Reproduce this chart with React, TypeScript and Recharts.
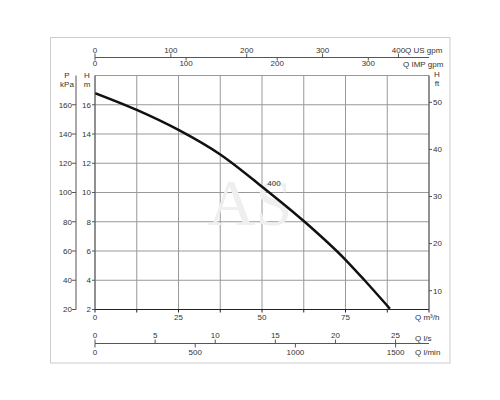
import React from "react";
import { ComposedChart, Line, XAxis, YAxis, CartesianGrid } from "recharts";

// pump curve "400"
const flowM3h = [0, 12.5, 25, 37.5, 50, 62.5, 75, 80.7, 88.3];
const headM = [16.8, 15.65, 14.28, 12.6, 10.4, 8.05, 5.4, 4.0, 2.05];

const m3hTicks = [0, 12.5, 25, 37.5, 50, 62.5, 75, 87.5, 100];
const m3hLabels = [0, 25, 50, 75];
const lsTicks = [0, 5, 10, 15, 20, 25];
const lminTicks = [0, 500, 1000, 1500];
const usGpmTicks = [0, 100, 200, 300, 400];
const impGpmTicks = [0, 100, 200, 300];
const headTicks = [2, 4, 6, 8, 10, 12, 14, 16];
const gridHead = [2, 4, 6, 8, 10, 12, 14, 16, 18];
const kpaTicks = [20, 40, 60, 80, 100, 120, 140, 160];
const ftTicks = [10, 20, 30, 40, 50];

const data = flowM3h.map((q, i) => ({ q, h: headM[i] }));

const FONT = "'Liberation Sans', Arial, sans-serif";
const TXT = "#333";
const AXIS = "#555";
const tickFont = { fontSize: 8, fill: TXT, fontFamily: FONT };

// tick + label above a bottom line (Q l/s)
const LsTick = (props: any) => {
  const { x, y, payload } = props;
  return (
    <g>
      <line x1={x} y1={y} x2={x} y2={y - 4} stroke={AXIS} />
      <text x={x} y={y - 5.5} textAnchor="middle" {...tickFont}>
        {payload.value}
      </text>
    </g>
  );
};

// tick + label below the same line (Q l/min), axis sits 1px lower
const LminTick = (props: any) => {
  const { x, y, payload } = props;
  return (
    <g>
      <line x1={x} y1={y - 1} x2={x} y2={y + 3} stroke={AXIS} />
      <text x={x} y={y + 10.5} textAnchor="middle" {...tickFont}>
        {payload.value}
      </text>
    </g>
  );
};

// IMP gpm: drawn under the US gpm line, 18px above this axis' own edge
const ImpTick = (props: any) => {
  const { x, y, payload } = props;
  return (
    <g>
      <line x1={x} y1={y - 18} x2={x} y2={y - 15} stroke={AXIS} />
      <text x={x} y={y - 9.5} textAnchor="middle" {...tickFont}>
        {payload.value}
      </text>
    </g>
  );
};

const UsTick = (props: any) => {
  const { x, y, payload } = props;
  return (
    <g>
      <line x1={x} y1={y} x2={x} y2={y - 4} stroke={AXIS} />
      <text x={x} y={y - 5} textAnchor="middle" {...tickFont}>
        {payload.value}
      </text>
    </g>
  );
};

// axis ids are sorted by name when stacked, hence the prefixes
export default function App() {
  return (
    <div>
      <style>{"body{margin:0}"}</style>
      <ComposedChart
        width={500}
        height={400}
        data={data}
        margin={{ top: 38.5, right: 50, bottom: 35.5, left: 50 }}
      >
        <rect x={50.5} y={37.5} width={399.5} height={325.5} fill="none" stroke="#ccc" />
        <text
          x={250}
          y={225}
          textAnchor="middle"
          fontSize={66}
          fontFamily="'Liberation Serif', 'DejaVu Serif', serif"
          fill="#efefef"
        >
          AS
        </text>
        <CartesianGrid
          xAxisId="b1_m3h"
          yAxisId="l1_m"
          stroke="#999"
          verticalValues={m3hTicks}
          horizontalValues={gridHead}
        />

        <XAxis
          xAxisId="b1_m3h"
          type="number"
          dataKey="q"
          domain={[0, 100]}
          allowDataOverflow
          ticks={m3hTicks}
          interval={0}
          height={34}
          tickSize={3}
          tickMargin={2}
          stroke="#222"
          tick={tickFont}
          tickFormatter={(v: number) => (m3hLabels.includes(v) ? String(v) : "")}
        />
        <XAxis
          xAxisId="b2_ls"
          type="number"
          dataKey="q"
          domain={[0, 27.78]}
          allowDataOverflow
          ticks={lsTicks}
          interval={0}
          height={1}
          tickSize={0}
          tickMargin={0}
          tickLine={false}
          stroke={AXIS}
          tick={<LsTick />}
        />
        <XAxis
          xAxisId="b3_lmin"
          type="number"
          dataKey="q"
          domain={[0, 1666.7]}
          allowDataOverflow
          ticks={lminTicks}
          interval={0}
          height={20}
          tickSize={0}
          tickMargin={0}
          axisLine={false}
          tickLine={false}
          tick={<LminTick />}
        />
        <XAxis
          xAxisId="t1_imp"
          orientation="top"
          type="number"
          dataKey="q"
          domain={[0, 366.6]}
          allowDataOverflow
          ticks={impGpmTicks}
          interval={0}
          height={18}
          tickSize={0}
          tickMargin={0}
          axisLine={false}
          tickLine={false}
          tick={<ImpTick />}
        />
        <XAxis
          xAxisId="t2_us"
          orientation="top"
          type="number"
          dataKey="q"
          domain={[0, 440.3]}
          allowDataOverflow
          ticks={usGpmTicks}
          interval={0}
          height={19}
          tickSize={0}
          tickMargin={0}
          tickLine={false}
          stroke={AXIS}
          tick={<UsTick />}
        />

        <YAxis
          yAxisId="l1_m"
          type="number"
          domain={[2, 18]}
          allowDataOverflow
          ticks={headTicks}
          interval={0}
          width={19}
          tickSize={3}
          tickMargin={1}
          stroke={AXIS}
          tick={tickFont}
        />
        <YAxis
          yAxisId="l2_kpa"
          type="number"
          domain={[20, 180]}
          allowDataOverflow
          ticks={kpaTicks}
          interval={0}
          width={26}
          tickSize={4}
          tickMargin={0}
          stroke={AXIS}
          tick={tickFont}
        />
        <YAxis
          yAxisId="r1_ft"
          orientation="right"
          type="number"
          domain={[6, 55.7]}
          allowDataOverflow
          ticks={ftTicks}
          interval={0}
          width={21}
          tickSize={3}
          tickMargin={1}
          stroke={AXIS}
          tick={tickFont}
        />

        <Line
          xAxisId="b1_m3h"
          yAxisId="l1_m"
          type="monotone"
          dataKey="h"
          stroke="#111"
          strokeWidth={2.5}
          dot={false}
          isAnimationActive={false}
        />

        <g fontFamily={FONT} fontSize={8} fill={TXT}>
          <text x={67} y={78} textAnchor="middle">P</text>
          <text x={67} y={87} textAnchor="middle">kPa</text>
          <text x={87} y={78} textAnchor="middle">H</text>
          <text x={87} y={87} textAnchor="middle">m</text>
          <text x={437} y={77} textAnchor="middle">H</text>
          <text x={437} y={86} textAnchor="middle">ft</text>
          <text x={405} y={53}>Q US gpm</text>
          <text x={403} y={67}>Q IMP gpm</text>
          <text x={415} y={320}>Q m³/h</text>
          <text x={415} y={341}>Q l/s</text>
          <text x={415} y={355}>Q l/min</text>
          <text x={274} y={186} textAnchor="middle">400</text>
        </g>
      </ComposedChart>
    </div>
  );
}
